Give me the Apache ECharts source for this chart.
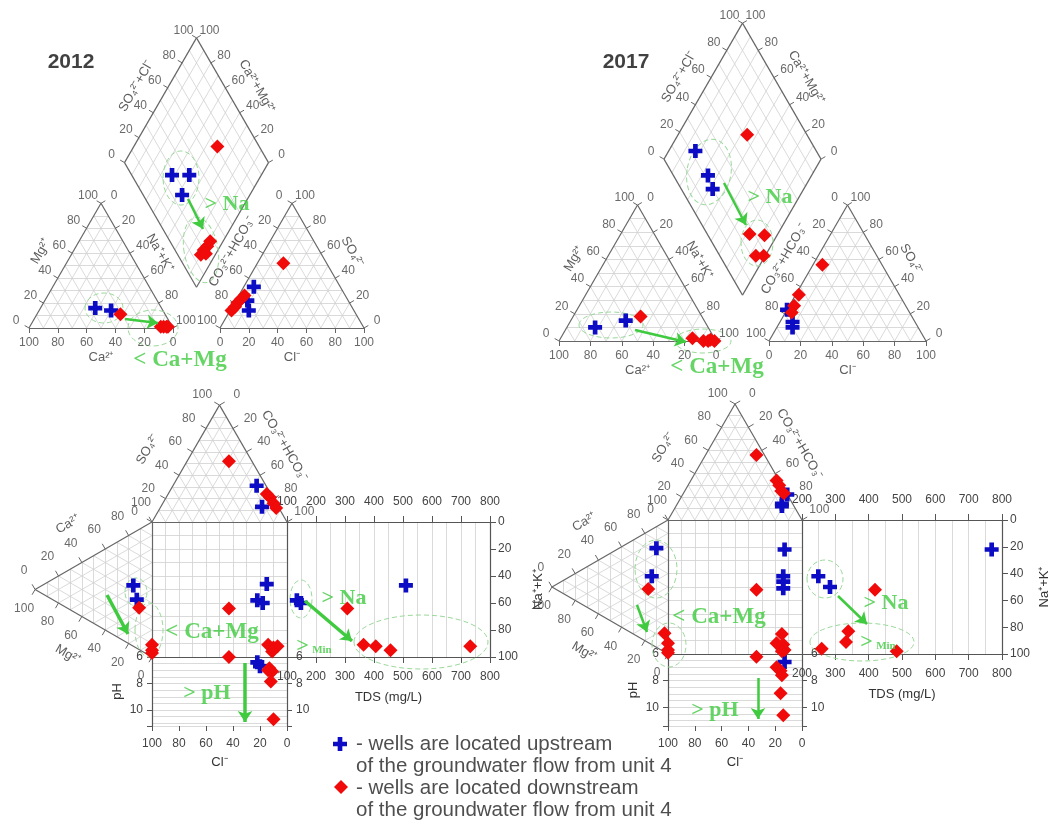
<!DOCTYPE html>
<html>
<head>
<meta charset="utf-8">
<script src="https://cdn.jsdelivr.net/npm/echarts@6/dist/echarts.min.js"></script>
<style>
  html, body { margin: 0; padding: 0; background: #fff; }
  #chart { width: 1062px; height: 825px; }
</style>
</head>
<body>
<div id="chart"></div>
<script>
// ===================== values =====================
const yearTitles = ['2012', '2017'];
const ternaryTicks = [0, 20, 40, 60, 80, 100];

// Piper cation triangle: [Ca, Mg, Na+K] (% meq)
const piperCation2012Up   = [[46, 16, 38], [36, 14, 50]];
const piperCation2012Down = [[31, 11, 58], [8, 1, 91], [6, 1, 93], [4, 1, 95], [3, 1, 96]];
const piperCation2017Up   = [[72, 10, 18], [50, 15, 35]];
const piperCation2017Down = [[39, 18, 43], [14, 2, 84], [8, 0, 92], [5, 0, 95], [3, 1, 96], [1, 0, 99]];

// Piper anion triangle: [CO3+HCO3, SO4, Cl]
const piperAnion2012Up   = [[60, 33, 7], [73, 14, 13], [70, 22, 8]];
const piperAnion2012Down = [[85, 14, 1], [81, 17, 2], [78, 20, 2], [74, 23, 3], [70, 26, 4], [30, 52, 18]];
const piperAnion2017Up   = [[77, 23, 0], [78, 14, 8], [80, 10, 10]];
const piperAnion2017Down = [[38, 56, 6], [64, 34, 2], [71, 26, 3], [75, 21, 4]];

// Piper diamond: [SO4+Cl, Ca+Mg]
const piperDiamond2012Up   = [[28, 62], [40, 50], [27, 47]];
const piperDiamond2012Down = [[71, 42], [28, 9], [24, 9], [20, 10], [16, 10], [20, 7]];
const piperDiamond2017Up   = [[23, 83], [22, 66], [20, 58]];
const piperDiamond2017Down = [[62, 56], [27, 18], [36, 8], [23, 6], [28, 1]];

// Durov anion triangle: [CO3+HCO3, SO4, Cl]
const durovAnion2012Up   = [[62, 31, 7], [75, 13, 12]];
const durovAnion2012Down = [[31, 52, 17], [73, 24, 3], [77, 21, 2], [82, 16, 2], [86, 12, 2]];
const durovAnion2017Up   = [[78, 22, 0], [78, 14, 8], [79, 12, 9]];
const durovAnion2017Down = [[38, 56, 6], [64, 34, 2], [68, 30, 2], [72, 25, 3], [75, 23, 2]];

// Durov cation triangle: [Ca, Mg, Na+K]
const durovCation2012Up   = [[45, 16, 39], [36, 13, 51]];
const durovCation2012Down = [[31, 11, 58], [9, 0, 91], [5, 0, 95], [3, 0, 97]];
const durovCation2017Up   = [[74, 10, 16], [51, 14, 35]];
const durovCation2017Down = [[40, 17, 43], [14, 3, 83], [8, 0, 92], [3, 0, 97], [1, 0, 99]];

// Durov central square: [Cl, Na+K]
const durovSquare2012Up   = [[15, 46], [22, 58], [18, 60]];
const durovSquare2012Down = [[43, 64], [14, 91], [10, 93], [7, 92], [11, 96]];
const durovSquare2017Up   = [[13, 22], [14, 42], [14, 46], [14, 51]];
const durovSquare2017Down = [[34, 52], [15, 85], [19, 92], [14, 93], [13, 97], [15, 98]];

// Durov pH panel: [Cl, pH]
const durovPh2012Up   = [[22, 6.4], [20, 6.7]];
const durovPh2012Down = [[43, 6.0], [13, 6.85], [11, 7.1], [14, 7.0], [12, 7.85], [10, 10.7]];
const durovPh2017Up   = [[13, 6.6]];
const durovPh2017Down = [[34, 6.2], [19, 7.0], [16, 7.25], [15, 7.6], [16, 8.95], [14, 10.6]];

// Durov TDS panel: [TDS mg/L, Na+K]
const durovTds2012Up   = [[134, 58], [148, 60], [510, 47]];
const durovTds2012Down = [[308, 64], [364, 91], [406, 92], [457, 95], [732, 92]];
const durovTds2017Up   = [[769, 22], [249, 42], [284, 50]];
const durovTds2017Down = [[419, 52], [339, 83], [332, 91], [259, 96], [484, 98]];

// axis ranges of the rectangular panels
const tdsRanges = [[100, 800], [200, 800]];
const phRanges = [[6, 11.2], [6, 11.4]];

const legendLines = [
  ['- wells are located upstream', 'of the groundwater flow from unit 4'],
  ['- wells are located downstream', 'of the groundwater flow from unit 4']
];

// ===================== layout =====================
const piperLayout = [
  { left: 29, base: 328, side: 144, gap: 47, titleX: 71, titleY: 62 },
  { left: 559, base: 341, side: 157, gap: 53, titleX: 626, titleY: 62 }
];
const durovLayout = [
  { left: 152, top: 522, side: 135, tdsWidth: 203, phHeight: 69, naGap: 42 },
  { left: 668, top: 520, side: 134, tdsWidth: 200, phHeight: 72, naGap: 36 }
];
const legendPos = { x: 340, y: 744, textX: 356, line: 22, block: 44 };

// green annotations: [x, y, text, fontSize]
const noteTexts = [
  [227, 204, '> Na', 22], [180, 360, '< Ca+Mg', 23],
  [770, 197, '> Na', 22], [717, 367, '< Ca+Mg', 23],
  [344, 598, '> Na', 22], [212, 632, '< Ca+Mg', 23], [207, 693, '> pH', 22],
  [886, 603, '> Na', 22], [719, 617, '< Ca+Mg', 23], [715, 710, '> pH', 22]
];
const noteMin = [[314, 646], [878, 642]];
// arrows: [from, to, width]
const noteArrows = [
  [[188, 199], [203, 229], 2.5], [[125, 319], [158, 323], 2.5],
  [[724, 183], [746, 225], 2.5], [[635, 330], [686, 342], 2.5],
  [[107, 595], [128, 634], 3.5], [[305, 601], [352, 641], 3.5], [[245, 663], [245, 722], 3.5],
  [[637, 605], [647, 632], 2.5], [[838, 596], [867, 624], 2.5], [[758, 678], [758, 719], 2.5]
];
// dashed ellipses: [cx, cy, rx, ry, rotation in degrees]
const noteEllipses = [
  [181, 178, 18, 27, 0], [201, 250, 17, 33, -10], [104, 308, 19, 15, 0], [153, 328, 25, 18, 0],
  [709, 172, 22, 33, 10], [757, 243, 16, 23, 0], [611, 325, 32, 13, 0], [703, 341, 28, 12, 0],
  [136, 592, 11, 14, 0], [149, 630, 14, 27, 0], [301, 599, 11, 19, 0], [421, 642, 67, 27, 0],
  [656, 569, 21, 29, 0], [669, 645, 17, 22, 0], [825, 579, 18, 19, 0], [862, 642, 52, 19, 0]
];

// ===================== styles =====================
const SANS = 'Liberation Sans, Arial, sans-serif';
const SERIF = 'Liberation Serif, Times New Roman, serif';
const GREEN = '#3fca3f';
const BLUE = '#0c0cc4';
const RED = '#f00a0a';
const EDGE = '#666';
const GRIDC = '#d0d0d0';
const CROSS = 'path://M3,0H6V3H9V6H6V9H3V6H0V3H3Z';
const H = Math.sqrt(3) / 2;

// ===================== geometry helpers =====================
const lerp = (p, q, t) => [p[0] + (q[0] - p[0]) * t, p[1] + (q[1] - p[1]) * t];
function bary(v, c) {
  const s = c[0] + c[1] + c[2];
  return [(v[0][0] * c[0] + v[1][0] * c[1] + v[2][0] * c[2]) / s,
          (v[0][1] * c[0] + v[1][1] * c[1] + v[2][1] * c[2]) / s];
}
function rhomb(d, a, c) {
  return [d.B[0] + (d.R[0] - d.B[0]) * a / 100 + (d.L[0] - d.B[0]) * c / 100,
          d.B[1] + (d.R[1] - d.B[1]) * a / 100 + (d.L[1] - d.B[1]) * c / 100];
}
const centroid = v => [(v[0][0] + v[1][0] + v[2][0]) / 3, (v[0][1] + v[1][1] + v[2][1]) / 3];

const gridSegs = [], edgeSegs = [], tickSegs = [], textItems = [];
const upPix = [], downPix = [];
const seg = (list, p, q) => list.push({ coords: [p, q] });

function text(x, y, str, o) {
  textItems.push({
    value: [x, y],
    label: Object.assign({ show: true, position: 'inside', formatter: str, color: '#444',
      fontSize: 12, fontFamily: SANS }, o || {})
  });
}

function triangleFrame(v) {
  for (let k = 10; k < 100; k += 10) {
    for (let i = 0; i < 3; i++) {
      const a = v[i], b = v[(i + 1) % 3], c = v[(i + 2) % 3];
      seg(gridSegs, lerp(b, a, k / 100), lerp(c, a, k / 100));
    }
  }
  for (let i = 0; i < 3; i++) seg(edgeSegs, v[i], v[(i + 1) % 3]);
}
function diamondFrame(d) {
  for (let k = 10; k < 100; k += 10) {
    seg(gridSegs, rhomb(d, k, 0), rhomb(d, k, 100));
    seg(gridSegs, rhomb(d, 0, k), rhomb(d, 100, k));
  }
  seg(edgeSegs, d.B, d.L); seg(edgeSegs, d.L, d.T); seg(edgeSegs, d.T, d.R); seg(edgeSegs, d.R, d.B);
}
// tick marks, tick labels and title along one edge; value 0 at `from`, 100 at `to`
function edgeAxis(from, to, centre, o) {
  const dx = to[0] - from[0], dy = to[1] - from[1], len = Math.hypot(dx, dy);
  let n = [dy / len, -dx / len];
  const mid = lerp(from, to, 0.5);
  if ((mid[0] - centre[0]) * n[0] + (mid[1] - centre[1]) * n[1] < 0) n = [-n[0], -n[1]];
  ternaryTicks.forEach(v => {
    const p = lerp(from, to, v / 100);
    seg(tickSegs, p, [p[0] + n[0] * o.tick, p[1] + n[1] * o.tick]);
    text(p[0] + n[0] * o.dist, p[1] + n[1] * o.dist, String(v));
  });
  const p = lerp(from, to, o.t);
  text(p[0] + n[0] * o.td, p[1] + n[1] * o.td, o.title, { rotate: o.rot, fontSize: 13, color: '#333' });
}

// ===================== Piper diagrams =====================
const piperSets = [
  { cat: [piperCation2012Up, piperCation2012Down], an: [piperAnion2012Up, piperAnion2012Down],
    dia: [piperDiamond2012Up, piperDiamond2012Down] },
  { cat: [piperCation2017Up, piperCation2017Down], an: [piperAnion2017Up, piperAnion2017Down],
    dia: [piperDiamond2017Up, piperDiamond2017Down] }
];

piperLayout.forEach((L, i) => {
  const s = L.side, h = s * H;
  const ca = [L.left, L.base], na = [L.left + s, L.base], mg = [L.left + s / 2, L.base - h];
  const x0 = L.left + s + L.gap;
  const hco3 = [x0, L.base], cl = [x0 + s, L.base], so4 = [x0 + s / 2, L.base - h];
  const bx = L.left + s + L.gap / 2, by = L.base - L.gap * H;
  const d = { B: [bx, by], L: [bx - s / 2, by - h], R: [bx + s / 2, by - h], T: [bx, by - 2 * h] };
  const catV = [ca, mg, na], anV = [hco3, so4, cl];
  triangleFrame(catV); triangleFrame(anV); diamondFrame(d);

  const cc = centroid(catV), ac = centroid(anV), dc = [bx, by - h];
  const base = { dist: 15, tick: 5 };
  edgeAxis(na, ca, cc, Object.assign({ title: 'Ca²⁺', t: 0.5, td: 29, rot: 0 }, base));
  edgeAxis(ca, mg, cc, Object.assign({ title: 'Mg²⁺', t: 0.5, td: 28, rot: 60 }, base));
  edgeAxis(mg, na, cc, Object.assign({ title: 'Na⁺+K⁺', t: 0.5, td: 26, rot: -60 }, base));
  edgeAxis(hco3, cl, ac, Object.assign({ title: 'Cl⁻', t: 0.5, td: 29, rot: 0 }, base));
  edgeAxis(so4, hco3, ac, Object.assign({ title: 'CO₃²⁻+HCO₃⁻', t: 0.5, td: 28, rot: 60 }, base));
  edgeAxis(cl, so4, ac, Object.assign({ title: 'SO₄²⁻', t: 0.5, td: 28, rot: -60 }, base));
  edgeAxis(d.L, d.T, dc, Object.assign({ title: 'SO₄²⁻+Cl⁻', t: 0.5, td: 28, rot: 60 }, base));
  edgeAxis(d.R, d.T, dc, Object.assign({ title: 'Ca²⁺+Mg²⁺', t: 0.5, td: 28, rot: -60 }, base));

  text(L.titleX, L.titleY, yearTitles[i], { fontSize: 21, fontWeight: 'bold', color: '#111' });

  const set = piperSets[i];
  [upPix, downPix].forEach((out, k) => {
    set.cat[k].forEach(c => out.push(bary(catV, c)));
    set.an[k].forEach(c => out.push(bary(anV, c)));
    set.dia[k].forEach(c => out.push(rhomb(d, c[0], c[1])));
  });
});

// ===================== Durov diagrams =====================
const durovSets = [
  { an: [durovAnion2012Up, durovAnion2012Down], cat: [durovCation2012Up, durovCation2012Down],
    sq: [durovSquare2012Up, durovSquare2012Down], ph: [durovPh2012Up, durovPh2012Down],
    tds: [durovTds2012Up, durovTds2012Down] },
  { an: [durovAnion2017Up, durovAnion2017Down], cat: [durovCation2017Up, durovCation2017Down],
    sq: [durovSquare2017Up, durovSquare2017Down], ph: [durovPh2017Up, durovPh2017Down],
    tds: [durovTds2017Up, durovTds2017Down] }
];

const grids = [{ left: 0, top: 0, width: 1062, height: 825, containLabel: false, outerBoundsMode: 'none' }];
const xAxes = [{ gridIndex: 0, type: 'value', min: 0, max: 1062, show: false }];
const yAxes = [{ gridIndex: 0, type: 'value', min: 0, max: 825, inverse: true, show: false }];
const rectUp = [], rectDown = [];

const darkAxisLine = { show: true, onZero: false, lineStyle: { color: '#555', width: 1.2 } };
const lightSplit = { show: true, lineStyle: { color: GRIDC, width: 0.8 } };
const tickStyle = len => ({ show: true, length: len, lineStyle: { color: '#555', width: 1 } });
const labelStyle = m => ({ color: '#444', fontSize: 12, fontFamily: SANS, margin: m });
const nameStyle = { color: '#333', fontSize: 13, fontFamily: SANS };
const hidden = { show: false };

durovLayout.forEach((L, i) => {
  const s = L.side, h = s * H;
  const tCl = [L.left, L.top], tHco3 = [L.left + s, L.top], tSo4 = [L.left + s / 2, L.top - h];
  const sCa = [L.left, L.top], sNa = [L.left, L.top + s], sMg = [L.left - h, L.top + s / 2];
  const anV = [tHco3, tSo4, tCl], catV = [sCa, sMg, sNa];
  triangleFrame(anV); triangleFrame(catV);
  const ac = centroid(anV), cc = centroid(catV);
  edgeAxis(tCl, tSo4, ac, { dist: 20, tick: 6, title: 'SO₄²⁻', t: 0.45, td: 40, rot: 60 });
  edgeAxis(tSo4, tHco3, ac, { dist: 20, tick: 6, title: 'CO₃²⁻+HCO₃⁻', t: 0.5, td: 36, rot: -60 });
  edgeAxis(sMg, sCa, cc, { dist: 22, tick: 6, title: 'Ca²⁺', t: 0.45, td: 40, rot: 30 });
  edgeAxis(sNa, sMg, cc, { dist: 22, tick: 6, title: 'Mg²⁺', t: 0.55, td: 40, rot: -30 });

  const set = durovSets[i];
  [upPix, downPix].forEach((out, k) => {
    set.an[k].forEach(c => out.push(bary(anV, c)));
    set.cat[k].forEach(c => out.push(bary(catV, c)));
  });

  // central square, TDS panel on its right, pH panel below
  const gSq = grids.length;
  grids.push({ left: L.left, top: L.top, width: s, height: s, containLabel: false, outerBoundsMode: 'none' });
  grids.push({ left: L.left + s, top: L.top, width: L.tdsWidth, height: s, containLabel: false, outerBoundsMode: 'none' });
  grids.push({ left: L.left, top: L.top + s, width: s, height: L.phHeight, containLabel: false, outerBoundsMode: 'none' });

  const xi = xAxes.length, yi = yAxes.length;
  // square: Cl (100 → 0) by Na+K (0 → 100)
  xAxes.push({ gridIndex: gSq, type: 'value', min: 0, max: 100, interval: 10, inverse: true, position: 'bottom',
    axisLine: darkAxisLine, axisTick: hidden, axisLabel: hidden, splitLine: lightSplit });
  yAxes.push({ gridIndex: gSq, type: 'value', min: 0, max: 100, interval: 10, inverse: true, position: 'right',
    axisLine: darkAxisLine, axisTick: hidden, axisLabel: hidden, splitLine: lightSplit });

  // TDS panel
  const tds = tdsRanges[i];
  xAxes.push({ gridIndex: gSq + 1, type: 'value', min: tds[0], max: tds[1], interval: 100, position: 'bottom',
    axisLine: darkAxisLine, axisTick: tickStyle(6), axisLabel: labelStyle(14),
    splitLine: lightSplit, minorTick: { show: false, splitNumber: 2 }, minorSplitLine: lightSplit,
    name: 'TDS (mg/L)', nameLocation: 'middle', nameGap: 34, nameTextStyle: nameStyle });
  xAxes.push({ gridIndex: gSq + 1, type: 'value', min: tds[0], max: tds[1], interval: 100, position: 'top',
    axisLine: darkAxisLine, axisTick: tickStyle(6), axisLabel: labelStyle(14), splitLine: hidden });
  yAxes.push({ gridIndex: gSq + 1, type: 'value', min: 0, max: 100, interval: 20, inverse: true, position: 'right',
    axisLine: darkAxisLine, axisTick: tickStyle(6), axisLabel: labelStyle(8), splitLine: hidden,
    name: 'Na⁺+K⁺', nameLocation: 'middle', nameRotate: 90, nameGap: L.naGap, nameTextStyle: nameStyle });

  // pH panel: Cl (100 → 0) by pH
  const ph = phRanges[i];
  const phLabel = Object.assign(labelStyle(9), { formatter: v => (v % 2 === 0 ? String(v) : '') });
  xAxes.push({ gridIndex: gSq + 2, type: 'value', min: 0, max: 100, interval: 20, inverse: true, position: 'bottom',
    axisLine: hidden, axisTick: tickStyle(5), axisLabel: labelStyle(12), splitLine: hidden,
    name: 'Cl⁻', nameLocation: 'middle', nameGap: 30, nameTextStyle: nameStyle });
  yAxes.push({ gridIndex: gSq + 2, type: 'value', min: ph[0], max: ph[1], interval: 2, inverse: true, position: 'left',
    axisLine: darkAxisLine, axisTick: tickStyle(5), axisLabel: phLabel,
    splitLine: lightSplit, minorTick: { show: false, splitNumber: 4 }, minorSplitLine: lightSplit,
    name: 'pH', nameLocation: 'middle', nameRotate: 90, nameGap: 28, nameTextStyle: nameStyle });
  yAxes.push({ gridIndex: gSq + 2, type: 'value', min: ph[0], max: ph[1], interval: 2, inverse: true, position: 'right',
    axisLine: darkAxisLine, axisTick: tickStyle(5), axisLabel: phLabel, splitLine: hidden });

  [rectUp, rectDown].forEach((out, k) => {
    out.push({ x: xi, y: yi, data: set.sq[k] });
    out.push({ x: xi + 1, y: yi + 1, data: set.tds[k] });
    out.push({ x: xi + 3, y: yi + 2, data: set.ph[k] });
  });
});

// ===================== series =====================
const segSeries = (data, color, width, z) => ({
  type: 'lines', coordinateSystem: 'cartesian2d', xAxisIndex: 0, yAxisIndex: 0, silent: true, z,
  polyline: false, data, lineStyle: { color, width, opacity: 1 }
});
const upStyle = { symbol: CROSS, symbolSize: 14, itemStyle: { color: BLUE, opacity: 1 } };
const downStyle = { symbol: 'diamond', symbolSize: 14, itemStyle: { color: RED, opacity: 1 } };

const series = [
  segSeries(gridSegs, GRIDC, 0.8, 1),
  segSeries(edgeSegs, EDGE, 1.2, 2),
  segSeries(tickSegs, EDGE, 1, 2),
  Object.assign({ type: 'scatter', name: 'upstream', xAxisIndex: 0, yAxisIndex: 0, z: 5, data: upPix }, upStyle)
];
rectUp.forEach(r => series.push(Object.assign({ type: 'scatter', xAxisIndex: r.x, yAxisIndex: r.y, z: 5, data: r.data }, upStyle)));
series.push(Object.assign({ type: 'scatter', name: 'downstream', xAxisIndex: 0, yAxisIndex: 0, z: 6, data: downPix }, downStyle));
rectDown.forEach(r => series.push(Object.assign({ type: 'scatter', xAxisIndex: r.x, yAxisIndex: r.y, z: 6, data: r.data }, downStyle)));

// legend
series.push(Object.assign({ type: 'scatter', xAxisIndex: 0, yAxisIndex: 0, z: 6, silent: true,
  data: [[legendPos.x, legendPos.y]] }, upStyle));
series.push(Object.assign({ type: 'scatter', xAxisIndex: 0, yAxisIndex: 0, z: 6, silent: true,
  data: [[legendPos.x + 1, legendPos.y + legendPos.block - 1]] }, downStyle));
legendLines.forEach((lines, k) => lines.forEach((ln, j) => {
  text(legendPos.textX, legendPos.y + k * legendPos.block + j * legendPos.line, ln,
    { align: 'left', fontSize: 20.5, color: '#222' });
}));

// green notes
noteTexts.forEach(t => text(t[0], t[1], t[2],
  { fontSize: t[3], fontFamily: SERIF, fontWeight: 'bold', color: GREEN }));
noteMin.forEach(t => text(t[0], t[1], '{g|>} {m|Min}', {
  rich: { g: { fontSize: 22, fontFamily: SERIF, fontWeight: 'bold', color: GREEN },
          m: { fontSize: 11, fontFamily: SERIF, fontWeight: 'bold', color: GREEN, padding: [8, 0, 0, 0] } }
}));

series.push({ type: 'scatter', xAxisIndex: 0, yAxisIndex: 0, z: 8, silent: true, symbolSize: 0, data: textItems });
series.push({
  type: 'lines', coordinateSystem: 'cartesian2d', xAxisIndex: 0, yAxisIndex: 0, silent: true, z: 9,
  symbol: ['none', 'arrow'], symbolSize: 11,
  data: noteArrows.map(a => ({ coords: [a[0], a[1]], lineStyle: { width: a[2] } })),
  lineStyle: { color: GREEN, opacity: 1 }
});

const chart = echarts.init(document.getElementById('chart'), null, { renderer: 'canvas' });
chart.setOption({
  backgroundColor: '#fff',
  animation: false,
  grid: grids,
  xAxis: xAxes,
  yAxis: yAxes,
  series
});

// dashed ellipses around sample groups
chart.setOption({
  graphic: noteEllipses.map(e => {
    const c = chart.convertToPixel({ xAxisIndex: 0, yAxisIndex: 0 }, [e[0], e[1]]);
    return {
      type: 'ellipse', silent: true, z: 4, x: c[0], y: c[1], rotation: -e[4] * Math.PI / 180,
      shape: { cx: 0, cy: 0, rx: e[2], ry: e[3] },
      style: { fill: 'none', stroke: '#9ad99a', lineWidth: 1, lineDash: [5, 3] }
    };
  })
});
</script>
</body>
</html>
